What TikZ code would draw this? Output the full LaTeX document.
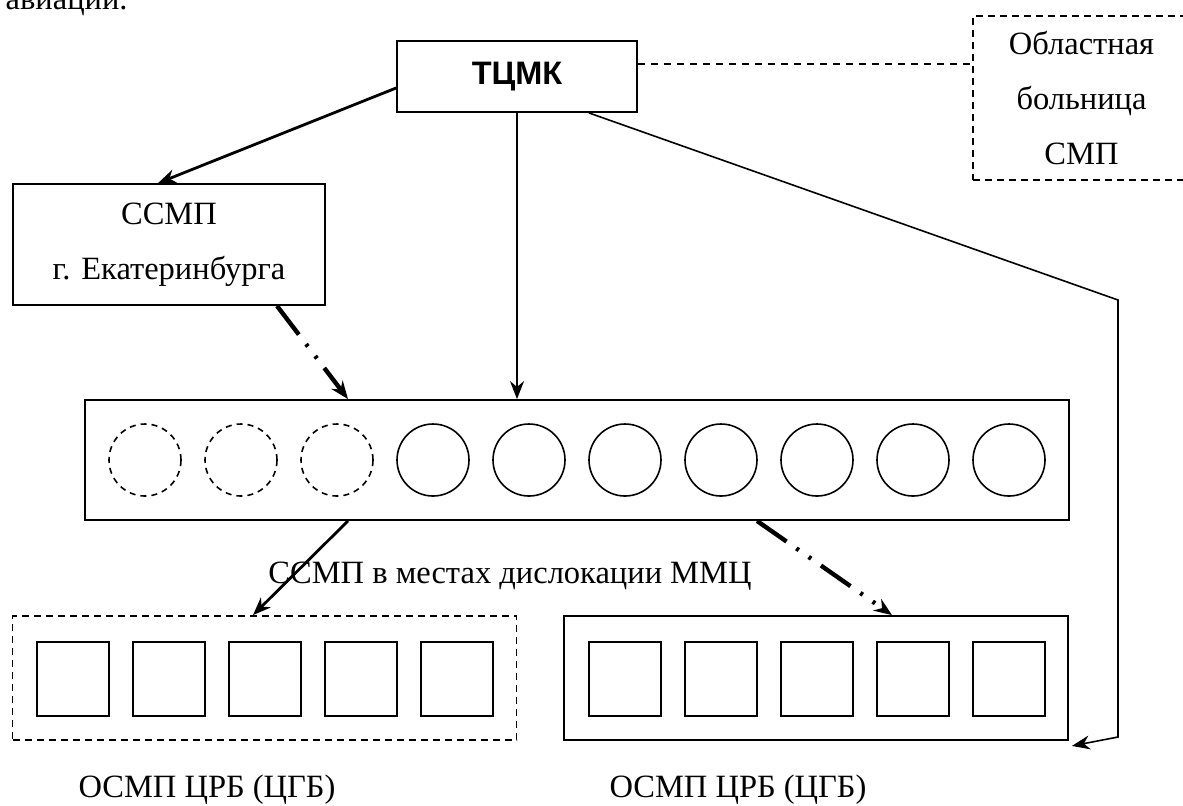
\documentclass[tikz,border=0pt]{standalone}
\usepackage{fontspec}
\setmainfont{Liberation Serif}
\setsansfont{Liberation Sans}
\usetikzlibrary{arrows.meta}
\usetikzlibrary{calc}

\tikzset{
  unitbox/.style  = {draw, line width=0.9pt, rectangle, inner sep=0pt, align=center},
  dashbox/.style  = {unitbox, dash pattern=on 3.5pt off 2.5pt},
  ring/.style     = {draw, line width=0.8pt, circle, minimum size=36pt, inner sep=0pt},
  dashring/.style = {ring, dash pattern=on 3pt off 2.5pt},
  cell/.style     = {draw, line width=0.9pt, rectangle, minimum width=36pt, minimum height=37pt, inner sep=0pt},
  dashdot/.style  = {line width=2.2pt, dash pattern=on 18pt off 6pt on 1.5pt off 6pt on 1.5pt off 6pt},
  lbl/.style      = {inner sep=0pt},
}

\begin{document}
\begin{tikzpicture}[x=0.5pt, y=-0.5pt, >={Stealth[length=9pt,width=7pt]},
  font=\fontsize{16.25}{27.5}\selectfont]

    \useasboundingbox (0,0) rectangle (1183,805);

    % Nodes

    \node[lbl, anchor=base east] (prev) at (128,9) {авиации.};

    \node[unitbox, minimum width=120pt, minimum height=35.5pt] (tcmk) at (517,76.5)
        {\raisebox{3pt}{\sffamily\bfseries ТЦМК}};
    \node[dashbox, minimum width=108.5pt, minimum height=82pt] (obl) at (1081.5,98)
        {Областная\\больница\\СМП};
    \node[unitbox, minimum width=156pt, minimum height=60.5pt] (ekb) at (169,244.5)
        {ССМП\\г. Екатеринбурга};

    \node[unitbox, minimum width=492pt, minimum height=60pt] (mmc) at (577,460) {};
    \foreach \i in {1,...,10} {
        \ifnum\i<4
            \node[dashring] (c\i) at ({145+96*(\i-1)},460) {};
        \else
            \node[ring] (c\i) at ({145+96*(\i-1)},460) {};
        \fi
    }
    \node[lbl, anchor=base] (mmclabel) at (510,583) {ССМП в местах дислокации ММЦ};

    % ОСМП boxes
    \node[dashbox, minimum width=252pt, minimum height=62pt] (osmpL) at (264.5,678) {};
    \node[unitbox, minimum width=252pt, minimum height=62pt] (osmpR) at (816,678) {};
    \foreach \i in {1,...,5} {
        \node[cell] (l\i) at ({73+96*(\i-1)},679) {};
        \node[cell] (r\i) at ({625+96*(\i-1)},679) {};
    }
    \node[lbl, anchor=base] (osmpLlabel) at (207,797) {ОСМП ЦРБ (ЦГБ)};
    \node[lbl, anchor=base] (osmpRlabel) at (738,797) {ОСМП ЦРБ (ЦГБ)};

    % Links

    \draw[dashed, dash pattern=on 3.5pt off 3pt, line width=0.8pt]
        ([yshift=6.25pt]tcmk.east) coordinate (d0) -- (d0 -| obl.west);

    \draw[->, line width=1.4pt] ([yshift=-5.75pt]tcmk.west) -- ([xshift=-5.5pt]ekb.north);
    \draw[->, line width=1pt] (tcmk.south) -- (tcmk.south |- mmc.north);

    \coordinate (bend1) at (1118,300);
    \coordinate (bend2) at (1118,737);
    \draw[->, line width=0.8pt] ([xshift=-24.5pt]tcmk.south east) -- (bend1) -- (bend2)
        -- ([shift={(3,5)}]osmpR.south east);

    \draw[->, dashdot] ([xshift=54pt]ekb.south) -- ([xshift=-114.5pt]mmc.north);
    \draw[->, line width=1.4pt] ([xshift=-114.5pt]mmc.south) -- ([xshift=-5.75pt]osmpL.north);
    \draw[->, dashdot] ([xshift=90pt]mmc.south) -- ([xshift=38pt]osmpR.north);

\end{tikzpicture}
\end{document}
